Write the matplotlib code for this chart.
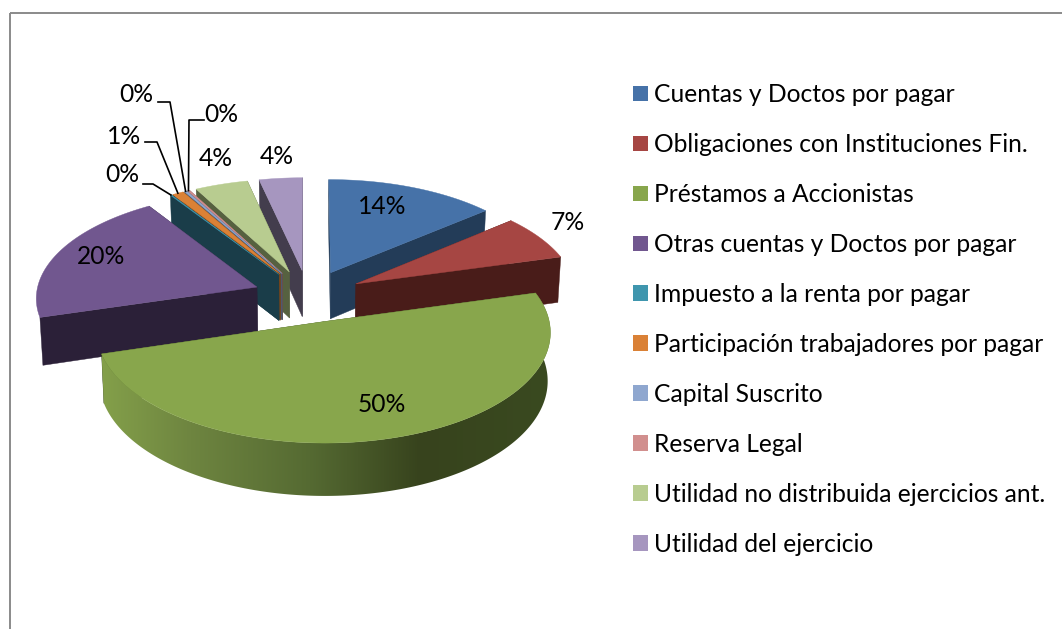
import numpy as np
import matplotlib
matplotlib.use("Agg")
import matplotlib.pyplot as plt
from matplotlib.patches import Polygon, Patch, Rectangle
from matplotlib.colors import to_rgb

categories = ["Cuentas y Doctos por pagar", "Obligaciones con Instituciones Fin.",
              "Préstamos a Accionistas", "Otras cuentas y Doctos por pagar",
              "Impuesto a la renta por pagar", "Participación trabajadores por pagar",
              "Capital Suscrito", "Reserva Legal",
              "Utilidad no distribuida ejercicios ant.", "Utilidad del ejercicio"]
shares = [13.8, 6.9, 49.7, 20.4, 0.1, 0.9, 0.2, 0.2, 4.3, 3.5]

top_colors = ["#4672A8", "#A64643", "#88A64C", "#71578F", "#3F96AE",
              "#DA8136", "#8FA7CF", "#D18F8E", "#B8CC90", "#A696BF"]
side_colors = ["#233C58", "#491C19", "#3A4A20", "#2B2038", "#1A3D49",
               "#74451C", "#4C5A70", "#704C4B", "#566140", "#433D4D"]

label_xy = [(382, 207), (568, 222), (382, 405), (101, 257), (122, 175),
            (124, 136), (136, 95), (221, 114), (216, 159), (277, 157)]
leader_elbows = {4: [(143, 184), (153, 184)], 5: [(145, 142), (157, 142)],
                 6: [(158, 102), (170, 102)], 7: [(204, 120), (189, 120)]}

CX, CY, RX, RY, PERSP, DEPTH, EXPLODE = 308.0, 296.0, 221.0, 105.5, 0.09, 47.0, 0.248
TAPER = 0.00024
FONT = "Lato"
GRAD_X = [100, 190, 310, 420, 550]
GRAD_C = ["#84A04A", "#6E8540", "#556A32", "#37431D", "#3A4A20"]


def project(X, Y, drop=0.0):
    w = 1 + PERSP * Y
    return CX + RX * X / w * (1 - TAPER * drop), CY - RY * Y / w + drop / w


fig = plt.figure(figsize=(10.62, 6.29), dpi=100)
ax = fig.add_axes([0, 0, 1, 1])
ax.axis("off")
ax.add_patch(Rectangle((9.5, 13), 1200, 800, fill=False, ec="#8A8A8A", lw=1.4, zorder=0))

fractions = np.array(shares) / sum(shares)
edges = np.concatenate([[0], np.cumsum(fractions)]) * 2 * np.pi


def outline(i):
    a0, a1 = edges[i], edges[i + 1]
    mid = (a0 + a1) / 2
    ox, oy = EXPLODE * np.sin(mid), EXPLODE * np.cos(mid)
    th = np.linspace(a0, a1, max(int((a1 - a0) * 90), 3))
    return ox, oy, th


def draw_slice(i, z):
    ox, oy, th = outline(i)
    rx, ry = ox + np.sin(th), oy + np.cos(th)
    side = side_colors[i]
    # radial walls
    for a in (th[0], th[-1]):
        xs, ys = [ox, ox + np.sin(a)], [oy, oy + np.cos(a)]
        p = [project(xs[0], ys[0]), project(xs[1], ys[1]),
             project(xs[1], ys[1], DEPTH), project(xs[0], ys[0], DEPTH)]
        ax.add_patch(Polygon(p, fc=side, ec=side, lw=0.3, zorder=z))
    ux, uy = project(rx, ry)
    lx, ly = project(rx, ry, DEPTH)
    if i == 2:
        # only the large slice shows its outer wall, with a left-to-right shading
        wall = np.c_[np.r_[ux, lx[::-1]], np.r_[uy, ly[::-1]]]
        xs = np.arange(wall[:, 0].min(), wall[:, 0].max() + 1)
        stops = np.array([to_rgb(c) for c in GRAD_C])
        grad = np.stack([np.interp(xs, GRAD_X, stops[:, k]) for k in range(3)], axis=-1)[None, :, :]
        patch = Polygon(wall, fc="none", ec="none", zorder=z + 0.1)
        ax.add_patch(patch)
        im = ax.imshow(grad, extent=(xs[0], xs[-1], wall[:, 1].max(), wall[:, 1].min()),
                       aspect="auto", interpolation="bilinear", zorder=z + 0.1)
        im.set_clip_path(patch)
    # top face
    ax.add_patch(Polygon(np.c_[np.r_[project(ox, oy)[0], ux], np.r_[project(ox, oy)[1], uy]],
                         fc=top_colors[i], ec=top_colors[i], lw=0.3, zorder=z + 0.2))


paint_order = [9, 8, 7, 6, 5, 4, 3, 0, 1, 2]
for z, i in enumerate(paint_order, start=1):
    draw_slice(i, z)

ax.set_xlim(0, 1062)
ax.set_ylim(629, 0)

for i, (s, (lx, ly)) in enumerate(zip(shares, label_xy)):
    ax.text(lx, ly, f"{s:.0f}%", ha="center", va="center", fontsize=17.7, family=FONT,
            color="black", zorder=30)
    if i in leader_elbows:
        ox, oy, th = outline(i)
        mid = (th[0] + th[-1]) / 2
        ex, ey = project(ox + np.sin(mid), oy + np.cos(mid))
        pts = leader_elbows[i] + [(ex, ey)]
        ax.plot(*zip(*pts), color="black", lw=1.2, zorder=29)

handles = [Patch(fc=c, ec="none") for c in top_colors]
leg = ax.legend(handles, categories, loc="upper left", bbox_to_anchor=(633 / 1062, 1 - 83 / 629),
                frameon=False, prop={"family": FONT, "size": 17.7}, labelspacing=1.098,
                handlelength=0.6, handleheight=0.6, handletextpad=0.25,
                borderpad=0, borderaxespad=0)

fig.savefig("out.png", dpi=100, facecolor="white")
